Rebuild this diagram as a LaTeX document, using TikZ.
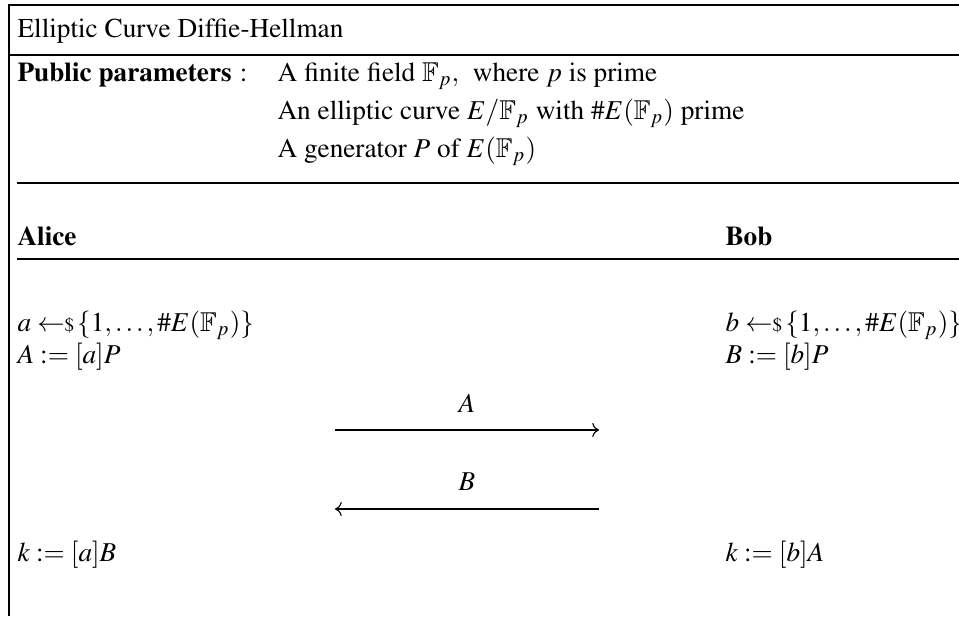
\documentclass[tikz,border=0pt]{standalone}
\usepackage[T1]{fontenc}
\usepackage{mathptmx}
\usepackage{amssymb}
\usetikzlibrary{arrows.meta,calc}

\newcommand{\samplefrom}{\hskip2.3pt{\leftarrow\!\!\mbox{\scriptsize\$}}\,}

\begin{document}
\begin{tikzpicture}[x=0.367pt,y=-0.367pt,
  txt/.style={anchor=base west,inner sep=0pt},
  msg/.style={anchor=base,inner sep=0pt}]

% Spalten und Pfeile
\def\colA{17}
\def\colP{277}
\def\colB{725}
\def\arrL{335}
\def\arrR{599}

\useasboundingbox (0,0) rectangle (959,616);

% ------------------- Rahmen -------------------
\draw (9,616) -- (9,5) -- (959,5);
\draw (9,55) -- (959,55);
\draw (\colA,183) -- (959,183);
\draw (\colA,259) -- (959,259);

% ------------------- Kopf -------------------
\node[txt] (title) at (\colA,37) {Elliptic Curve Diffie-Hellman};
\node[txt] (pub) at (\colA,81) {\textbf{Public parameters}\hspace{3pt}:};
\node[txt] (par1) at (\colP,81) {A finite field $\mathbb{F}_p,$\ \ where $p$ is prime};
\node[txt] (par2) at (\colP,119) {An elliptic curve $E/\mathbb{F}_p$ with $\#E(\mathbb{F}_p)$ prime};
\node[txt] (par3) at (\colP,157) {A generator $P$ of $E(\mathbb{F}_p)$};

% ------------------- Parteien -------------------
\node[txt] (alice) at (\colA,245) {\textbf{Alice}};
\node[txt] (bob) at (\colB,245) {\textbf{Bob}};

\node[txt] (a1) at (\colA,331) {$a \samplefrom \{1,\ldots,\#E(\mathbb{F}_p)\}$};
\node[txt] (a2) at (\colA,363) {$A := [a]P$};
\node[txt] (b1) at (\colB,331) {$b \samplefrom \{1,\ldots,\#E(\mathbb{F}_p)\}$};
\node[txt] (b2) at (\colB,363) {$B := [b]P$};

% Nachrichten
\coordinate (m1s) at (\arrL,430);
\coordinate (m1e) at (\arrR,430);
\coordinate (m2s) at (\arrR,509);
\coordinate (m2e) at (\arrL,509);
\node[msg] (lblA) at ($(m1s)!0.5!(m1e)+(0,-18)$) {$A$};
\node[msg] (lblB) at ($(m2s)!0.5!(m2e)+(0,-19)$) {$B$};
\draw[->] (m1s) -- (m1e);
\draw[->] (m2s) -- (m2e);

% Schluessel
\node[txt] (ka) at (\colA,561) {$k := [a]B$};
\node[txt] (kb) at (\colB,561) {$k := [b]A$};

\end{tikzpicture}
\end{document}
